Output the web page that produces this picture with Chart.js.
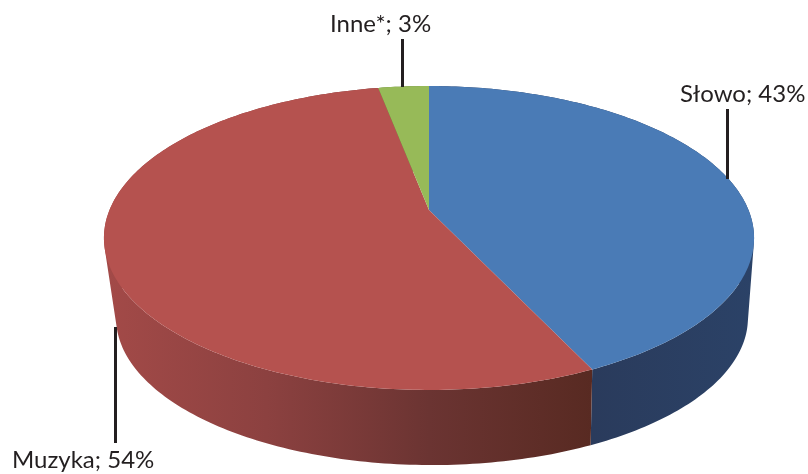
<!DOCTYPE html>
<html>
<head>
<meta charset="utf-8">
<style>
  body { margin: 0; background: #fff; }
  canvas { display: block; }
</style>
<script src="https://cdn.jsdelivr.net/npm/chart.js@4/dist/chart.umd.min.js"></script>
</head>
<body>
<canvas id="pieChart" width="808" height="474"></canvas>
<script>
const categories = ["Słowo", "Muzyka", "Inne*"];
const shares = [43, 54, 3];
const topColors = ["#4a7bb6", "#b5524f", "#97ba58"];
// left to right along the rim
const sideColors = [
  ["#2a3b5c", "#2b4267"],
  ["#a34a48", "#8c4140", "#6b3432", "#582a22"],
  ["#5f7a35", "#5f7a35"],
];

// the picture is a tilted disc, so it has real perspective
const topDisc = { x: 429, y: 210, scaleX: 319.5, scaleY: 146.8 };
// the lower edge of the wall is further away and a bit smaller
const bottomDisc = { x: 432, y: 291, scaleX: 310.5, scaleY: 142 };
const tilt = 0.1842;

function project(disc, angle) {
  const u = Math.cos(angle);
  const v = Math.sin(angle);
  const w = 1 - tilt * v;
  return { x: disc.x + (disc.scaleX * u) / w, y: disc.y + (disc.scaleY * v) / w };
}

function rimPoints(arc, disc) {
  const steps = Math.max(4, Math.ceil((arc.endAngle - arc.startAngle) * 60));
  const pts = [];
  for (let i = 0; i <= steps; i++) {
    const a = arc.startAngle + ((arc.endAngle - arc.startAngle) * i) / steps;
    pts.push(project(disc, a));
  }
  return pts;
}

function addQuad(ctx, a, b, c, d) {
  // keep every quad wound the same way, overlaps must not cancel out
  const area = (b.x - a.x) * (c.y - a.y) - (c.x - a.x) * (b.y - a.y);
  const quad = area >= 0 ? [a, b, c, d] : [d, c, b, a];
  ctx.moveTo(quad[0].x, quad[0].y);
  quad.slice(1).forEach((p) => ctx.lineTo(p.x, p.y));
  ctx.closePath();
}

function drawSide(ctx, arc, stops) {
  const top = rimPoints(arc, topDisc);
  const bottom = rimPoints(arc, bottomDisc);
  const xs = top.filter((p) => p.y > topDisc.y).map((p) => p.x);
  const left = xs.length ? Math.min(...xs) : topDisc.x;
  const right = xs.length ? Math.max(...xs) : topDisc.x + 1;
  const grad = ctx.createLinearGradient(left, 0, right, 0);
  stops.forEach((c, i) => grad.addColorStop(i / (stops.length - 1), c));
  ctx.fillStyle = grad;
  ctx.beginPath();
  for (let i = 0; i < top.length - 1; i++) {
    addQuad(ctx, top[i], top[i + 1], bottom[i + 1], bottom[i]);
  }
  ctx.fill();
}

function drawTop(ctx, arc, color) {
  ctx.fillStyle = color;
  ctx.beginPath();
  ctx.moveTo(topDisc.x, topDisc.y);
  rimPoints(arc, topDisc).forEach((p) => ctx.lineTo(p.x, p.y));
  ctx.closePath();
  ctx.fill();
}

const tiltedPie = {
  id: "tiltedPie",
  beforeDatasetsDraw(chart) {
    const ctx = chart.ctx;
    const arcs = chart.getDatasetMeta(0).data;
    ctx.save();
    arcs.forEach((arc, i) => drawSide(ctx, arc, sideColors[i]));
    arcs.forEach((arc, i) => drawTop(ctx, arc, topColors[i]));
    ctx.restore();
    return false;
  },
};

const labelSpots = [
  { x: 680, y: 102, lineX: 727.5, from: 109, to: 179 },
  { x: 12, y: 468, lineX: 115.5, from: 327, to: 443 },
  { x: 330, y: 32, lineX: 402.5, from: 39, to: 87 },
];

const sliceLabels = {
  id: "sliceLabels",
  afterDraw(chart) {
    const ctx = chart.ctx;
    ctx.save();
    ctx.font = '24px Lato, "Open Sans", sans-serif';
    ctx.fillStyle = "#231f20";
    ctx.strokeStyle = "#231f20";
    ctx.lineWidth = 3;
    categories.forEach((name, i) => {
      const spot = labelSpots[i];
      ctx.beginPath();
      ctx.moveTo(spot.lineX, spot.from);
      ctx.lineTo(spot.lineX, spot.to);
      ctx.stroke();
      ctx.fillText(`${name}; ${shares[i]}%`, spot.x, spot.y);
    });
    ctx.restore();
  },
};

new Chart(document.getElementById("pieChart").getContext("2d"), {
  type: "pie",
  data: {
    labels: categories,
    datasets: [{ data: shares, backgroundColor: topColors }],
  },
  options: {
    responsive: false,
    animation: false,
    events: [],
    plugins: {
      legend: { display: false },
      tooltip: { enabled: false },
    },
  },
  plugins: [tiltedPie, sliceLabels],
});
</script>
</body>
</html>
